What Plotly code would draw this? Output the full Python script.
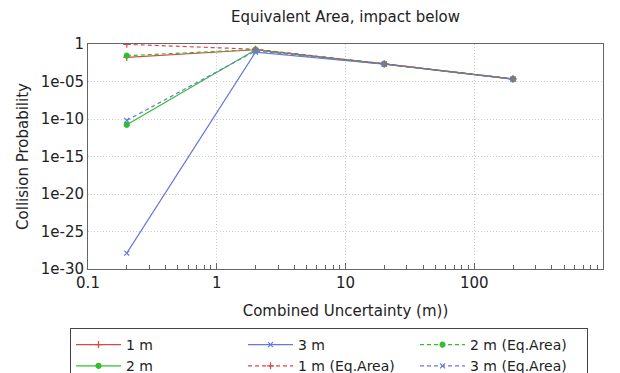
import plotly.graph_objects as go

# Combined uncertainty (m) at which each case was evaluated
uncertainty = [0.2, 2, 20, 200]

# Collision probability per object size
p_1m = [1.6e-2, 0.17, 2.2e-3, 2.2e-5]
p_2m = [1.7e-11, 0.17, 2.2e-3, 2.2e-5]
p_3m = [1.3e-28, 0.08, 2.0e-3, 2.0e-5]
p_1m_eq = [0.9, 0.2, 2.2e-3, 2.2e-5]
p_2m_eq = [2.8e-2, 0.18, 2.2e-3, 2.2e-5]
p_3m_eq = [6.5e-11, 0.12, 2.1e-3, 2.1e-5]

y_tickvals = [1, 1e-5, 1e-10, 1e-15, 1e-20, 1e-25, 1e-30]
y_ticktext = ["1", "1e-05", "1e-10", "1e-15", "1e-20", "1e-25", "1e-30"]
x_tickvals = [0.1, 1, 10, 100, 1000]
x_ticktext = ["0.1", "1", "10", "100", "1000"]
x_minor = [m * d for d in (0.1, 1, 10, 100) for m in range(2, 10)]

RED = "#d9474c"
GREEN = "#2ec02e"
BLUE = "#6678e0"
DASH = "4px,3px"

# Ordered so the horizontal legend fills rows of three
series = [
    ("1 m", p_1m, RED, "solid", "cross-thin-open", 5),
    ("3 m", p_3m, BLUE, "solid", "x-thin-open", 5),
    ("2 m (Eq.Area)", p_2m_eq, GREEN, DASH, "circle", 5),
    ("2 m", p_2m, GREEN, "solid", "circle", 5),
    ("1 m (Eq.Area)", p_1m_eq, RED, DASH, "cross-thin-open", 5),
    ("3 m (Eq.Area)", p_3m_eq, BLUE, DASH, "x-thin-open", 5),
]

fig = go.Figure()
for name, vals, color, dash, symbol, size in series:
    fig.add_trace(go.Scatter(
        x=uncertainty, y=vals, name=name, mode="lines+markers",
        line=dict(color=color, width=1.2, dash=dash),
        marker=dict(symbol=symbol, size=size, color=color,
                    line=dict(color=color, width=1.2)),
    ))

axis_common = dict(
    showline=True, linecolor="#666666", linewidth=1, mirror=True,
    showgrid=True, gridcolor="#cccccc", griddash="1px,2px", gridwidth=1,
    zeroline=False, tickfont=dict(size=15, color="#222222"),
)

fig.update_xaxes(
    type="log", range=[-1, 3], tickmode="array", tickvals=x_tickvals, ticktext=x_ticktext,
    ticks="inside", ticklen=6, tickcolor="#666666",
    minor=dict(tickmode="array", tickvals=x_minor, ticks="inside", ticklen=4,
               tickcolor="#666666", showgrid=False),
    title=dict(text="Combined Uncertainty (m))", font=dict(size=15, color="#222222"),
               standoff=14),
    **axis_common,
)
fig.update_yaxes(
    type="log", range=[-30, 0], tickmode="array", tickvals=y_tickvals, ticktext=y_ticktext,
    ticks="", title=dict(text="Collision Probability", font=dict(size=15, color="#222222"),
                         standoff=8),
    **axis_common,
)

fig.update_layout(
    width=620, height=373,
    margin=dict(l=88, r=17, t=44, b=104, autoexpand=False),
    paper_bgcolor="white", plot_bgcolor="white",
    font=dict(family="DejaVu Sans", size=15, color="#222222"),
    title=dict(text="Equivalent Area, impact below", x=0.5, xref="paper",
               y=0.954, yref="container", yanchor="middle",
               font=dict(size=15, color="#222222")),
    legend=dict(
        orientation="h", x=70 / 620, xref="container", xanchor="left",
        y=(373 - 328) / 373, yref="container", yanchor="top",
        entrywidth=112, entrywidthmode="pixels",
        bordercolor="#444444", borderwidth=1, bgcolor="white",
        font=dict(size=14, color="#222222"), itemwidth=45,
        tracegroupgap=0,
    ),
    showlegend=True,
)

fig.write_html("out.html")
